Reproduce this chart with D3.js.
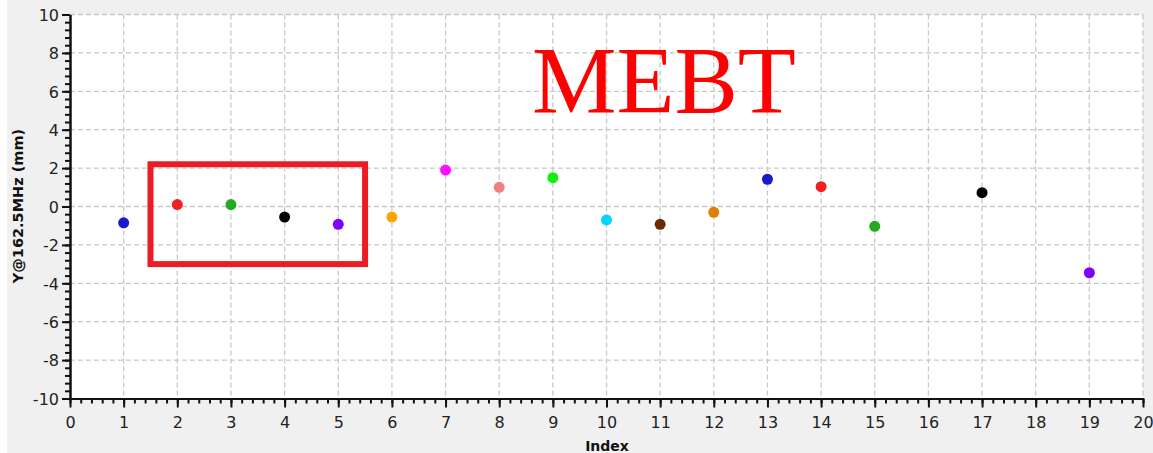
<!DOCTYPE html>
<html>
<head>
<meta charset="utf-8">
<script src="https://cdn.jsdelivr.net/npm/d3@7"></script>
<style>
	body { margin: 0; background: #fff; }
	.tick text { font-family: "DejaVu Sans", sans-serif; font-size: 16px; fill: #222; }
	.axis path, .axis line { stroke: #111; stroke-width: 2; }
	.grid line { stroke: #c8c8c8; stroke-dasharray: 5,3; stroke-width: 1.3; }
	.label { font-family: "DejaVu Sans", sans-serif; font-weight: bold; font-size: 14px; fill: #111; }
</style>
</head>
<body>
<svg id="chart" width="1153" height="453"></svg>
<script>
// data
const indices = [1, 2, 3, 4, 5, 6, 7, 8, 9, 10, 11, 12, 13, 14, 15, 17, 19];
const yValues = [-0.85, 0.1, 0.1, -0.55, -0.93, -0.55, 1.9, 1.0, 1.5, -0.7, -0.93, -0.3, 1.42, 1.03, -1.03, 0.72, -3.45];
const colors = ["#1a1acc", "#f02020", "#22aa22", "#000000", "#8000ff", "#ffa500", "#ff10ff", "#f08080",
	"#10f010", "#00d4ff", "#6b2a00", "#e08000", "#1a1acc", "#f02020", "#22aa22", "#000000", "#8000ff"];
const xTicks = d3.range(0, 21, 1);
const yTicks = d3.range(-10, 11, 2);
const boxX = [1.5, 5.5];
const boxY = [-3, 2.2];
const title = "MEBT";

const svg = d3.select('#chart');
const marginLeft = 70, marginTop = 14.5;
const width = 1073, height = 384;

// grey panel
svg.append('rect')
	.attr('x', 7).attr('y', 0)
	.attr('width', 1146).attr('height', 453)
	.attr('fill', '#f0f0f0');

const bounds = svg.append('g')
	.attr('transform', `translate(${marginLeft}, ${marginTop})`);

bounds.append('rect')
	.attr('width', width).attr('height', height)
	.attr('fill', '#fff');

const xScale = d3.scaleLinear().domain([0, 20]).range([0, width]);
const yScale = d3.scaleLinear().domain([-10, 10]).range([height, 0]);

// grid
bounds.append('g').attr('class', 'grid')
	.selectAll('line')
	.data(xTicks.filter(d => d > 0))
	.join('line')
		.attr('x1', d => xScale(d)).attr('x2', d => xScale(d))
		.attr('y1', 0).attr('y2', height);
bounds.append('g').attr('class', 'grid')
	.selectAll('line')
	.data(yTicks.filter(d => d > -10))
	.join('line')
		.attr('x1', 0).attr('x2', width)
		.attr('y1', d => yScale(d)).attr('y2', d => yScale(d));

// minor ticks
const xMinor = d3.range(0, 20.01, 0.2);
const yMinor = d3.range(-10, 10.01, 0.4);

bounds.append('g').attr('class', 'axis')
	.attr('transform', `translate(0, ${height})`)
	.call(d3.axisBottom(xScale).tickValues(xMinor).tickSize(5).tickFormat('').tickSizeOuter(0));
bounds.append('g').attr('class', 'axis')
	.call(d3.axisLeft(yScale).tickValues(yMinor).tickSize(5).tickFormat('').tickSizeOuter(0));

// major axes
const fmt = d => String(d);
const xAxis = bounds.append('g').attr('class', 'axis')
	.attr('transform', `translate(0, ${height})`)
	.call(d3.axisBottom(xScale).tickValues(xTicks).tickSize(9).tickPadding(9).tickFormat(fmt).tickSizeOuter(0));
const yAxis = bounds.append('g').attr('class', 'axis')
	.call(d3.axisLeft(yScale).tickValues(yTicks).tickSize(8).tickPadding(3).tickFormat(fmt).tickSizeOuter(0));
yAxis.selectAll('.tick text').attr('dy', '0.36em');

// labels
svg.append('text').attr('class', 'label')
	.attr('x', 607).attr('y', 451)
	.attr('text-anchor', 'middle')
	.text('Index');
svg.append('text').attr('class', 'label')
	.attr('transform', 'translate(23, 206) rotate(-90)')
	.attr('text-anchor', 'middle')
	.style('font-size', '14.5px')
	.text('Y@162.5MHz (mm)');

// points
bounds.append('g')
	.selectAll('circle')
	.data(indices)
	.join('circle')
		.attr('cx', d => xScale(d))
		.attr('cy', (d, i) => yScale(yValues[i]))
		.attr('r', 5.5)
		.attr('fill', (d, i) => colors[i]);

// annotation box
bounds.append('rect')
	.attr('x', xScale(boxX[0]))
	.attr('y', yScale(boxY[1]))
	.attr('width', xScale(boxX[1]) - xScale(boxX[0]))
	.attr('height', yScale(boxY[0]) - yScale(boxY[1]))
	.attr('fill', 'none')
	.attr('stroke', '#ec1c24')
	.attr('stroke-width', 6);

svg.append('text')
	.attr('x', 532).attr('y', 113)
	.attr('font-family', '"Liberation Serif", serif')
	.attr('font-size', 95)
	.attr('fill', '#ff0000')
	.text(title);
</script>
</body>
</html>
